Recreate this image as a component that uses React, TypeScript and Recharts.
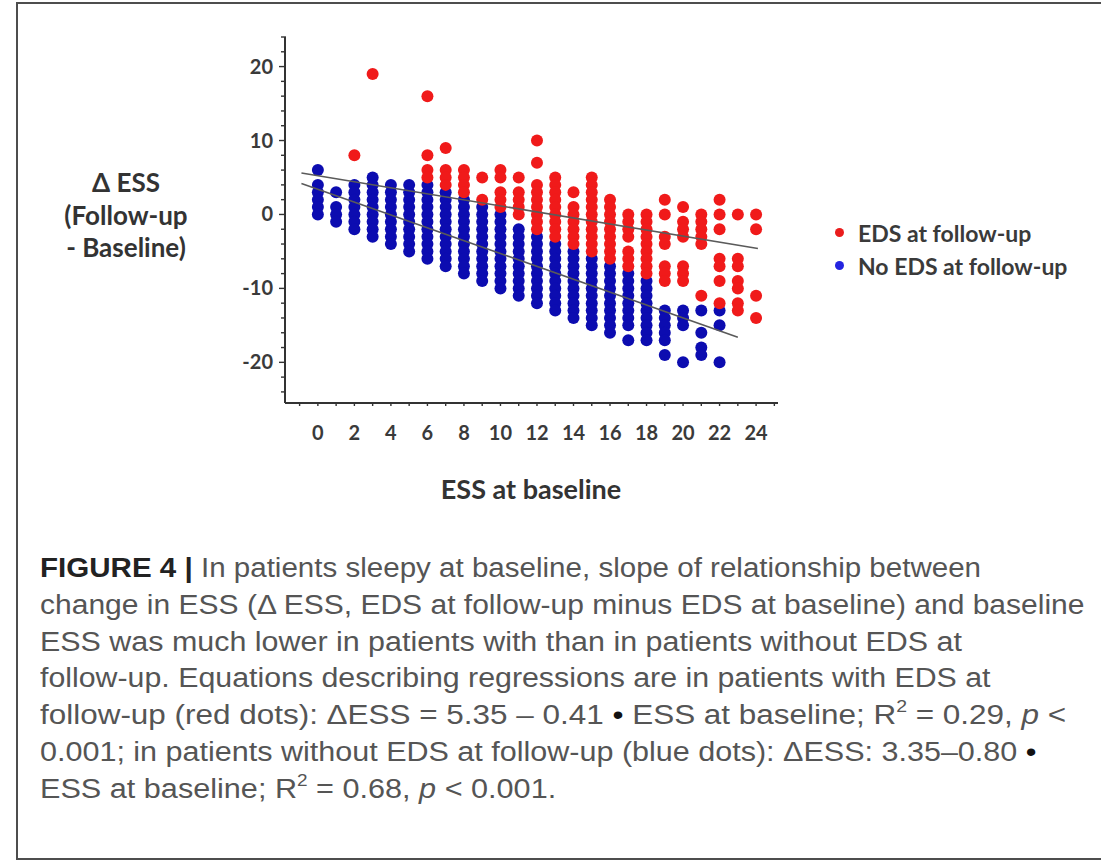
import React, { useLayoutEffect, useRef, useState } from 'react';
import { ScatterChart, Scatter, XAxis, YAxis, Legend } from 'recharts';

// ESS at baseline (x categories)
const essBaseline = [0, 1, 2, 3, 4, 5, 6, 7, 8, 9, 10, 11, 12, 13, 14, 15, 16, 17, 18, 19, 20, 21, 22, 23, 24];

// Δ ESS values of patients with EDS at follow-up, one list per baseline ESS
const edsAtFollowUp: number[][] = [
  [],
  [],
  [8],
  [19],
  [],
  [],
  [16, 8, 6, 5],
  [9, 6, 5, 4],
  [6, 5, 4, 3],
  [5, 2],
  [6, 5, 3, 2, 1],
  [5, 3, 2, 1, 0],
  [10, 7, 4, 3, 2, 1, 0, -1, -2],
  [5, 4, 3, 2, 1, 0, -1, -2, -3],
  [3, 1, 0, -1, -2, -3, -4],
  [5, 4, 3, 2, 1, 0, -1, -2, -3, -4, -5],
  [2, 1, 0, -1, -2, -3, -4, -5, -6],
  [0, -1, -2, -3, -5, -6, -7],
  [0, -1, -2, -3, -4, -5, -6, -7, -8],
  [2, 0, -3, -4, -7, -8, -9],
  [1, -1, -2, -3, -7, -8, -9],
  [0, -1, -2, -3, -4, -11],
  [2, 0, -2, -6, -7, -9, -12],
  [0, -6, -7, -9, -10, -12, -13],
  [0, -2, -11, -14],
];

// Δ ESS values of patients without EDS at follow-up
const noEdsAtFollowUp: number[][] = [
  [6, 4, 3, 2, 1, 0],
  [3, 1, 0, -1],
  [4, 3, 2, 1, 0, -1, -2],
  [5, 4, 3, 2, 1, 0, -1, -2, -3],
  [4, 3, 2, 1, 0, -1, -2, -3, -4],
  [4, 3, 2, 1, 0, -1, -2, -3, -4, -5],
  [4, 3, 2, 1, 0, -1, -2, -3, -4, -5, -6],
  [3, 2, 1, 0, -1, -2, -3, -4, -5, -6, -7],
  [2, 1, 0, -1, -2, -3, -4, -5, -6, -7, -8],
  [1, 0, -1, -2, -3, -4, -5, -6, -7, -8, -9],
  [0, -1, -2, -3, -4, -5, -6, -7, -8, -9, -10],
  [-2, -3, -4, -5, -6, -7, -8, -9, -10, -11],
  [-3, -4, -5, -6, -7, -8, -9, -10, -11, -12],
  [-4, -5, -6, -7, -8, -9, -10, -11, -12, -13],
  [-5, -6, -7, -8, -9, -10, -11, -12, -13, -14],
  [-6, -7, -8, -9, -10, -11, -12, -13, -14, -15],
  [-7, -8, -9, -10, -11, -12, -13, -14, -15, -16],
  [-8, -9, -10, -11, -12, -13, -14, -15, -17],
  [-9, -10, -11, -12, -13, -14, -15, -16, -17],
  [-13, -14, -15, -16, -17, -19],
  [-13, -14, -15, -20],
  [-13, -16, -18, -19],
  [-13, -15, -20],
  [],
  [],
];

// regression lines, end points
const edsFitX = [-0.9, 24.1];
const edsFitY = [5.6, -4.6];
const noEdsFitX = [-0.9, 23];
const noEdsFitY = [4.2, -16.6];

const xTicks = [-1, 0, 1, 2, 3, 4, 5, 6, 7, 8, 9, 10, 11, 12, 13, 14, 15, 16, 17, 18, 19, 20, 21, 22, 23, 24, 25];
const xLabels = [0, 2, 4, 6, 8, 10, 12, 14, 16, 18, 20, 22, 24];
const yTicks = [-24, -22, -20, -18, -16, -14, -12, -10, -8, -6, -4, -2, 0, 2, 4, 6, 8, 10, 12, 14, 16, 18, 20, 22, 24];
const yLabels = [-20, -10, 0, 10, 20];

const RED = '#f01a1a';
const BLUE = '#0c0cb0';
const legendColors: Record<string, string> = { 'EDS at follow-up': '#ea1c1c', 'No EDS at follow-up': '#2424e0' };
const legendOrder = ['EDS at follow-up', 'No EDS at follow-up'];

const toPoints = (cols: number[][]) =>
  essBaseline.flatMap((x, i) => cols[i].map((d) => ({ x, y: d })));

const edsPoints = toPoints(edsAtFollowUp);
const noEdsPoints = toPoints(noEdsAtFollowUp);
const edsFit = edsFitX.map((x, i) => ({ x, y: edsFitY[i] }));
const noEdsFit = noEdsFitX.map((x, i) => ({ x, y: noEdsFitY[i] }));

const chartFont = 'Lato, "Open Sans", sans-serif';
const axisColor = '#333';
const LEGEND_ROW = 33;

const XTick = (props: any) => {
  const { x, y, payload } = props;
  const v = payload.value;
  return (
    <g>
      <line x1={x} x2={x} y1={y - 1} y2={y + 3} stroke={axisColor} strokeWidth={1.4} />
      {xLabels.includes(v) && (
        <text x={x} y={y + 30} dy="0.35em" textAnchor="middle" fontFamily={chartFont} fontWeight={700} fontSize={20} fill="#3a3a3a">
          {v}
        </text>
      )}
    </g>
  );
};

const YTick = (props: any) => {
  const { x, y, payload } = props;
  const v = payload.value;
  const major = yLabels.includes(v);
  return (
    <g>
      <line x1={x - (major ? 6 : 4)} x2={x + 1} y1={y} y2={y} stroke={axisColor} strokeWidth={1.4} />
      {major && (
        <text x={x - 12} y={y} dy="0.35em" textAnchor="end" fontFamily={chartFont} fontWeight={700} fontSize={20} fill="#3a3a3a">
          {v}
        </text>
      )}
    </g>
  );
};

const Dot = (color: string) => (p: any) => <circle cx={p.cx} cy={p.cy} r={6} fill={color} />;

const renderLegend = (props: any) => {
  const items = [...(props.payload || [])]
    .filter((it: any) => legendOrder.includes(it.value))
    .sort((a: any, b: any) => legendOrder.indexOf(a.value) - legendOrder.indexOf(b.value));
  return (
    <div style={{ fontFamily: chartFont, fontWeight: 700, fontSize: 23, color: '#3a3a3a' }}>
      {items.map((it: any) => (
        <div key={it.value} style={{ display: 'flex', alignItems: 'center', height: LEGEND_ROW }}>
          <span style={{ width: 9, height: 9, borderRadius: '50%', background: legendColors[it.value], marginRight: 14 }} />
          <span>{it.value}</span>
        </div>
      ))}
    </div>
  );
};

const FitLine: React.FC<{ top: number; width: number; children: React.ReactNode }> = ({ top, width, children }) => {
  const ref = useRef<HTMLDivElement>(null);
  const [k, setK] = useState(1);
  useLayoutEffect(() => {
    if (ref.current && ref.current.offsetWidth > 0) setK(width / ref.current.offsetWidth);
  }, [width]);
  return (
    <div
      ref={ref}
      style={{
        position: 'absolute',
        left: 40,
        top,
        whiteSpace: 'nowrap',
        lineHeight: '36px',
        transform: `scaleX(${k})`,
        transformOrigin: '0 0',
      }}
    >
      {children}
    </div>
  );
};

const sup = (t: string) => <span style={{ fontSize: '0.62em', verticalAlign: '0.7em', lineHeight: 0 }}>{t}</span>;
const bullet = <span style={{ color: '#111' }}>•</span>;

export default function App() {
  const capTop = 550;
  const step = 36.8;
  return (
    <div style={{ position: 'absolute', left: 0, top: 0, width: 1101, height: 863, overflow: 'hidden', background: '#fff' }}>
      <div
        style={{
          position: 'absolute',
          left: 16,
          top: 2,
          width: 1200,
          height: 854,
          borderTop: '2px solid #4d4d4d',
          borderLeft: '2px solid #4d4d4d',
          borderBottom: '2px solid #4d4d4d',
        }}
      />
      <div style={{ position: 'absolute', left: 0, top: 0 }}>
        {/* the legend's two rows are added to the bottom offset by Recharts, so bottom margin is reduced by that */}
        <ScatterChart width={1101} height={520} margin={{ top: 37, right: 323, bottom: 77 - 2 * LEGEND_ROW, left: 225 }}>
          <XAxis
            type="number"
            dataKey="x"
            domain={[-1.8, 25.2]}
            ticks={xTicks}
            interval={0}
            allowDataOverflow
            tickSize={0}
            tickMargin={0}
            tickLine={false}
            tick={XTick}
            height={40}
            axisLine={{ stroke: axisColor, strokeWidth: 2 }}
          />
          <YAxis
            type="number"
            dataKey="y"
            domain={[-25.5, 24]}
            ticks={yTicks}
            interval={0}
            allowDataOverflow
            tickSize={0}
            tickMargin={0}
            tickLine={false}
            tick={YTick}
            width={60}
            axisLine={{ stroke: axisColor, strokeWidth: 2 }}
          />
          <Legend
            content={renderLegend}
            layout="vertical"
            wrapperStyle={{ left: 835, top: 216, width: 260 }}
          />
          <Scatter name="No EDS at follow-up" data={noEdsPoints} fill={BLUE} shape={Dot(BLUE)} isAnimationActive={false} />
          <Scatter name="EDS at follow-up" data={edsPoints} fill={RED} shape={Dot(RED)} isAnimationActive={false} />
          <Scatter
            name="fit-eds"
            data={edsFit}
            legendType="none"
            line={{ stroke: '#5a5a5a', strokeWidth: 1.6 }}
            shape={() => <g />}
            isAnimationActive={false}
          />
          <Scatter
            name="fit-no-eds"
            data={noEdsFit}
            legendType="none"
            line={{ stroke: '#5a5a5a', strokeWidth: 1.6 }}
            shape={() => <g />}
            isAnimationActive={false}
          />
        </ScatterChart>
      </div>

      {/* axis titles */}
      <div style={{ position: 'absolute', left: 531, top: 488, transform: 'translate(-50%, -50%)', fontFamily: chartFont, fontWeight: 700, fontSize: 27, color: '#333', whiteSpace: 'nowrap', lineHeight: 1 }}>
        ESS at baseline
      </div>
      <div style={{ position: 'absolute', left: 126, top: 215, transform: 'translate(-50%, -50%)', fontFamily: chartFont, fontWeight: 700, fontSize: 26, color: '#333', whiteSpace: 'nowrap', lineHeight: '32.5px', textAlign: 'center' }}>
        <div>Δ ESS</div>
        <div>(Follow-up</div>
        <div>- Baseline)</div>
      </div>

      {/* caption */}
      <div style={{ fontFamily: '"Liberation Sans", Arial, sans-serif', fontSize: 27, color: '#555' }}>
        <FitLine top={capTop} width={941}>
          <b style={{ color: '#222' }}>FIGURE 4 |</b> In patients sleepy at baseline, slope of relationship between
        </FitLine>
        <FitLine top={capTop + step} width={1045}>
          change in ESS (Δ ESS, EDS at follow-up minus EDS at baseline) and baseline
        </FitLine>
        <FitLine top={capTop + step * 2} width={922}>
          ESS was much lower in patients with than in patients without EDS at
        </FitLine>
        <FitLine top={capTop + step * 3} width={950}>
          follow-up. Equations describing regressions are in patients with EDS at
        </FitLine>
        <FitLine top={capTop + step * 4} width={1026}>
          follow-up (red dots): ΔESS = 5.35 – 0.41 {bullet} ESS at baseline; R{sup('2')} = 0.29, <i>p</i> &lt;
        </FitLine>
        <FitLine top={capTop + step * 5} width={997}>
          0.001; in patients without EDS at follow-up (blue dots): ΔESS: 3.35–0.80 {bullet}
        </FitLine>
        <FitLine top={capTop + step * 6} width={516}>
          ESS at baseline; R{sup('2')} = 0.68, <i>p</i> &lt; 0.001.
        </FitLine>
      </div>
    </div>
  );
}
